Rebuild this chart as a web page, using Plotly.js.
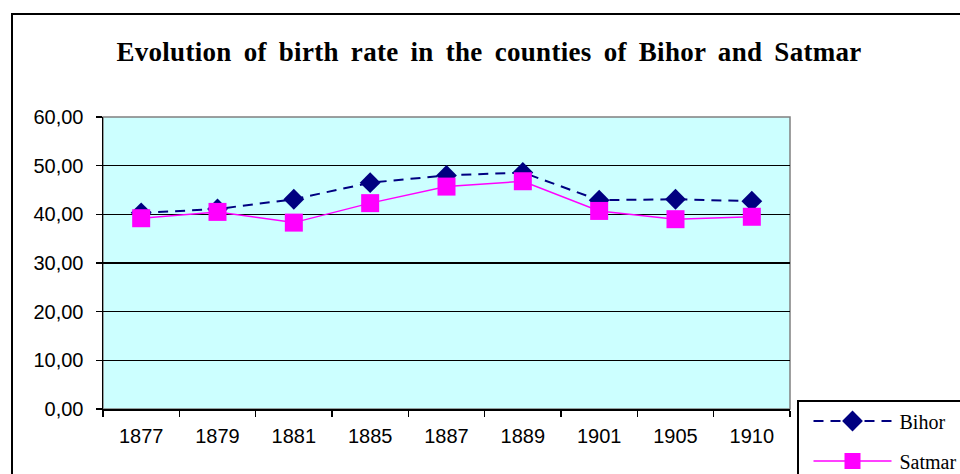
<!DOCTYPE html>
<html>
<head>
<meta charset="utf-8">
<script src="https://cdn.plot.ly/plotly-3.0.1.min.js"></script>
<style>
html,body{margin:0;padding:0;background:#fff;}
#chart{width:960px;height:474px;}
#chart .gtitle{letter-spacing:0.3px;word-spacing:5px;}
</style>
</head>
<body>
<div id="chart"></div>
<script>
const years = ["1877","1879","1881","1885","1887","1889","1901","1905","1910"];
const bihor = [40.3, 41.1, 43.1, 46.5, 48.0, 48.6, 42.9, 43.1, 42.7];
const satmar = [39.2, 40.5, 38.3, 42.3, 45.7, 46.8, 40.7, 39.0, 39.5];
const yTicks = [0, 10, 20, 30, 40, 50, 60];

const L = 103, R = 790, T = 117, B = 409, W = 960, H = 474;
const pw = R - L, ph = B - T;
const px = x => (x - L) / pw;
const py = y => (B - y) / ph;

const traces = [
  {x: years, y: bihor, name: "Bihor", type: "scatter", mode: "lines+markers", legendgroup: "a",
   line: {color: "#000080", width: 2, dash: "10px,7px"},
   marker: {symbol: "diamond", size: 16, color: "#000080"}},
  {x: years, y: satmar, name: "Satmar", type: "scatter", mode: "lines+markers", legendgroup: "b",
   line: {color: "#FF00FF", width: 1.5},
   marker: {symbol: "square", size: 18, color: "#FF00FF"}}
];

const tickFont = {family: "Liberation Sans, Arial, sans-serif", size: 20, color: "#000"};

const layout = {
  width: W, height: H,
  margin: {l: L, r: W - R, t: T, b: H - B, pad: 0, autoexpand: false},
  paper_bgcolor: "#ffffff",
  plot_bgcolor: "#CCFFFF",
  separators: ",.",
  showlegend: true,
  title: {text: "<b>Evolution of birth rate in the counties of Bihor and Satmar</b>",
          x: 489 / W, xref: "container", xanchor: "center",
          y: 1 - 52 / H, yref: "container", yanchor: "middle",
          font: {family: "Liberation Serif, Times New Roman, serif", size: 27, color: "#000"}},
  xaxis: {type: "category", range: [-0.5, 8.5], showgrid: false, zeroline: false, automargin: false,
          showline: true, linecolor: "#000", linewidth: 1.5,
          ticks: "outside", tickson: "boundaries", ticklen: 6, tickcolor: "#000", tickwidth: 1.5,
          ticklabelstandoff: 8, tickfont: tickFont},
  yaxis: {range: [0, 60], tickvals: yTicks, tickformat: ".2f", showgrid: true, automargin: false,
          gridcolor: "#000", gridwidth: 1.5, zeroline: false,
          showline: true, linecolor: "#000", linewidth: 1.5,
          ticks: "outside", ticklen: 6, tickcolor: "#000", tickwidth: 1.5,
          ticklabelstandoff: 8, tickfont: tickFont},
  legend: {x: px(797), y: py(400), xanchor: "left", yanchor: "top",
           bgcolor: "#ffffff", bordercolor: "#000", borderwidth: 1.5,
           itemwidth: 91, tracegroupgap: 11,
           font: {family: "Liberation Serif, Times New Roman, serif", size: 20, color: "#000"}},
  shapes: [
    {type: "rect", xref: "paper", yref: "paper", x0: 0, x1: 1, y0: 0, y1: 1,
     line: {color: "#808080", width: 1.5}, layer: "below"},
    {type: "rect", xref: "paper", yref: "paper", x0: px(12), x1: px(1000), y0: py(520), y1: py(14),
     line: {color: "#000", width: 2}, fillcolor: "rgba(0,0,0,0)", layer: "below"}
  ]
};

Plotly.newPlot("chart", traces, layout, {displayModeBar: false, staticPlot: true}).then(function (gd) {
  // widen the legend sample lines to match the reference legend key
  gd.querySelectorAll(".legend .legendlines path").forEach(function (p) {
    p.setAttribute("d", "M15,0h78");
  });
  gd.querySelectorAll(".legend .legendpoints path").forEach(function (p) {
    p.setAttribute("transform", "translate(54,0)");
  });
});
</script>
</body>
</html>
